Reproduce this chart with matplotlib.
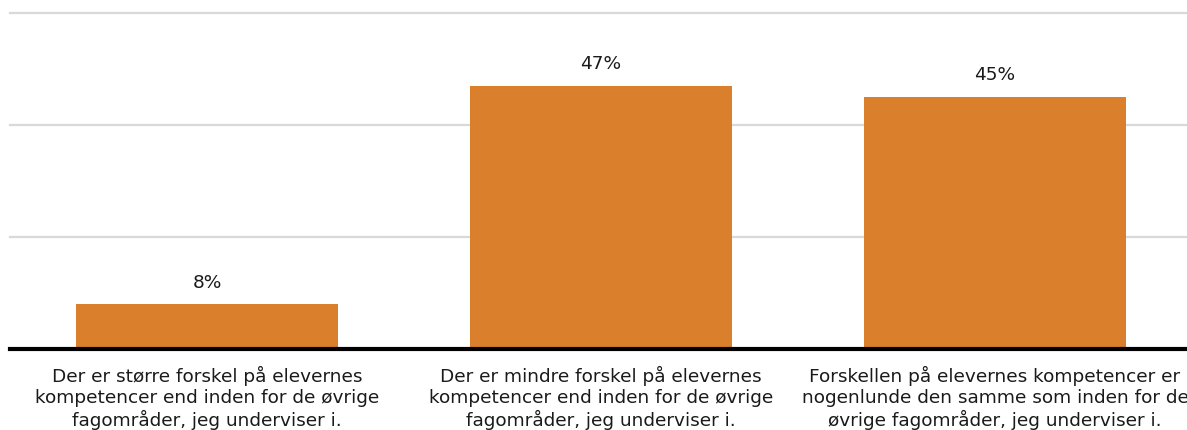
import matplotlib.pyplot as plt

categories = [
    "Der er større forskel på elevernes\nkompetencer end inden for de øvrige\nfagområder, jeg underviser i.",
    "Der er mindre forskel på elevernes\nkompetencer end inden for de øvrige\nfagområder, jeg underviser i.",
    "Forskellen på elevernes kompetencer er\nnogenlunde den samme som inden for de\nøvrige fagområder, jeg underviser i.",
]
values = [8, 47, 45]
labels = ["8%", "47%", "45%"]

fig = plt.figure(figsize=(11.87, 4.30), dpi=100)
ax = fig.add_axes([10 / 1187, 81 / 430, 1182 / 1187, 336 / 430])

x = range(len(values))
bars = ax.bar(x, values, width=0.665, color="#DA7F2B", zorder=3)

ax.set_xlim(-0.5, 2.5)
ax.set_ylim(0, 60)
ax.set_yticks([20, 40, 60])
ax.yaxis.grid(True, color="#d9d9d9", linewidth=1.6)
for gl in ax.get_ygridlines():
    gl.set_clip_on(False)
ax.tick_params(axis="y", left=False, labelleft=False)

ax.set_xticks(list(x))
ax.set_xticklabels(categories, fontsize=13.3, color="#1a1a1a", linespacing=1.2)
ax.tick_params(axis="x", length=0, pad=12)

for side in ["top", "right", "left"]:
    ax.spines[side].set_visible(False)
ax.spines["bottom"].set_linewidth(3)
ax.spines["bottom"].set_color("black")
ax.spines["bottom"].set_zorder(4)

for b, lab in zip(bars, labels):
    ax.annotate(lab, (b.get_x() + b.get_width() / 2, b.get_height()),
                xytext=(0, 9), textcoords="offset points",
                ha="center", va="bottom", fontsize=13.3, color="#1a1a1a")

fig.savefig("out.png", dpi=100)
